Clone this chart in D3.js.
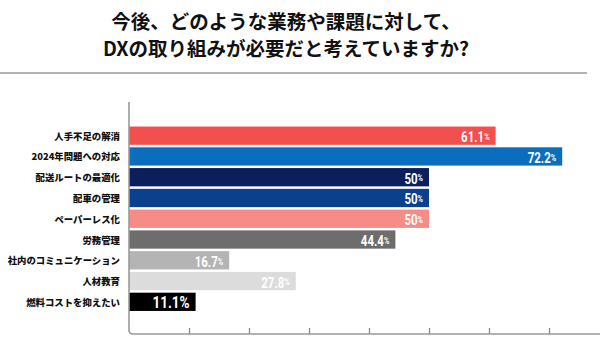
<!DOCTYPE html>
<html>
<head>
<meta charset="utf-8">
<script src="https://cdn.jsdelivr.net/npm/d3@7"></script>
<style>
  body { margin: 0; background: #fff; }
</style>
</head>
<body>
<svg id="chart"></svg>
<script>
  const titleLines = ["今後、どのような業務や課題に対して、", "DXの取り組みが必要だと考えていますか?"];
  const categories = ["人手不足の解消", "2024年問題への対応", "配送ルートの最適化", "配車の管理", "ペーパーレス化",
                      "労務管理", "社内のコミュニケーション", "人材教育", "燃料コストを抑えたい"];
  const values = [61.1, 72.2, 50, 50, 50, 44.4, 16.7, 27.8, 11.1];
  const tickValues = [10, 20, 30, 40, 50, 60, 70];
  const barColors = ["#f24f4f", "#0a6dbd", "#0a1f5c", "#0b408c", "#f78b86", "#6d6d6d", "#b4b4b4", "#dcdcdc", "#000000"];

  const width = 600, height = 361;
  const svg = d3.select("#chart").attr("width", width).attr("height", height);

  // title
  svg.append("g").selectAll("text")
    .data(titleLines)
    .join("text")
      .attr("x", 286)
      .attr("y", (d, i) => 20 + i * 27)
      .attr("text-anchor", "middle")
      .attr("dominant-baseline", "central")
      .attr("font-family", "'Noto Sans CJK JP', sans-serif")
      .attr("font-weight", "bold")
      .attr("font-size", 19.5)
      .attr("fill", "#111")
      .text(d => d);

  svg.append("line")
    .attr("x1", 0).attr("x2", 587)
    .attr("y1", 73).attr("y2", 73)
    .attr("stroke", "#b3b3b3")
    .attr("stroke-width", 2);

  const x = d3.scaleLinear().domain([0, 100]).range([129, 729]);
  const y = d3.scaleBand().domain(categories).range([125.5, 312]).paddingInner(0.12).paddingOuter(0.05);
  const color = d3.scaleOrdinal().domain(categories).range(barColors);

  const rows = categories.map((c, i) => ({ cat: c, val: values[i] }));

  svg.append("g").selectAll("rect")
    .data(rows)
    .join("rect")
      .attr("x", x(0))
      .attr("y", d => y(d.cat))
      .attr("width", d => x(d.val) - x(0))
      .attr("height", y.bandwidth())
      .attr("fill", d => color(d.cat));

  // value labels (condensed look via horizontal squeeze)
  const lab = svg.append("g").selectAll("text")
    .data(rows)
    .join("text")
      .attr("transform", d => `translate(${x(d.val) - 6},${y(d.cat) + y.bandwidth() / 2 + 1}) scale(0.82,1)`)
      .attr("text-anchor", "end")
      .attr("dominant-baseline", "central")
      .attr("font-family", "Roboto, sans-serif")
      .attr("font-weight", "bold")
      .attr("fill", "#fff");
  lab.append("tspan")
    .attr("font-size", d => d.val === 11.1 ? 16.5 : 14)
    .text(d => d.val);
  lab.append("tspan")
    .attr("font-size", d => d.val === 11.1 ? 16.5 : 9)
    .text("%");

  // category labels
  svg.append("g").selectAll("text")
    .data(categories)
    .join("text")
      .attr("x", 120)
      .attr("y", d => y(d) + y.bandwidth() / 2)
      .attr("text-anchor", "end")
      .attr("dominant-baseline", "central")
      .attr("font-family", "'Noto Sans CJK JP', sans-serif")
      .attr("font-weight", "900")
      .attr("font-size", 9.4)
      .attr("fill", "#111")
      .text(d => d);

  // axes
  const xAxis = d3.axisBottom(x).tickValues(tickValues).tickSize(-6).tickFormat("");
  const gx = svg.append("g")
    .attr("transform", "translate(0,334)")
    .call(xAxis);
  gx.select(".domain").remove();
  gx.selectAll(".tick line").attr("stroke", "#888").attr("stroke-width", 1.3);

  svg.append("path")
    .attr("d", `M${x(0)},102 V330 Q${x(0)},334 ${x(0) + 4},334 H${width}`)
    .attr("fill", "none")
    .attr("stroke", "#9a9a9a")
    .attr("stroke-width", 1.6);
</script>
</body>
</html>
